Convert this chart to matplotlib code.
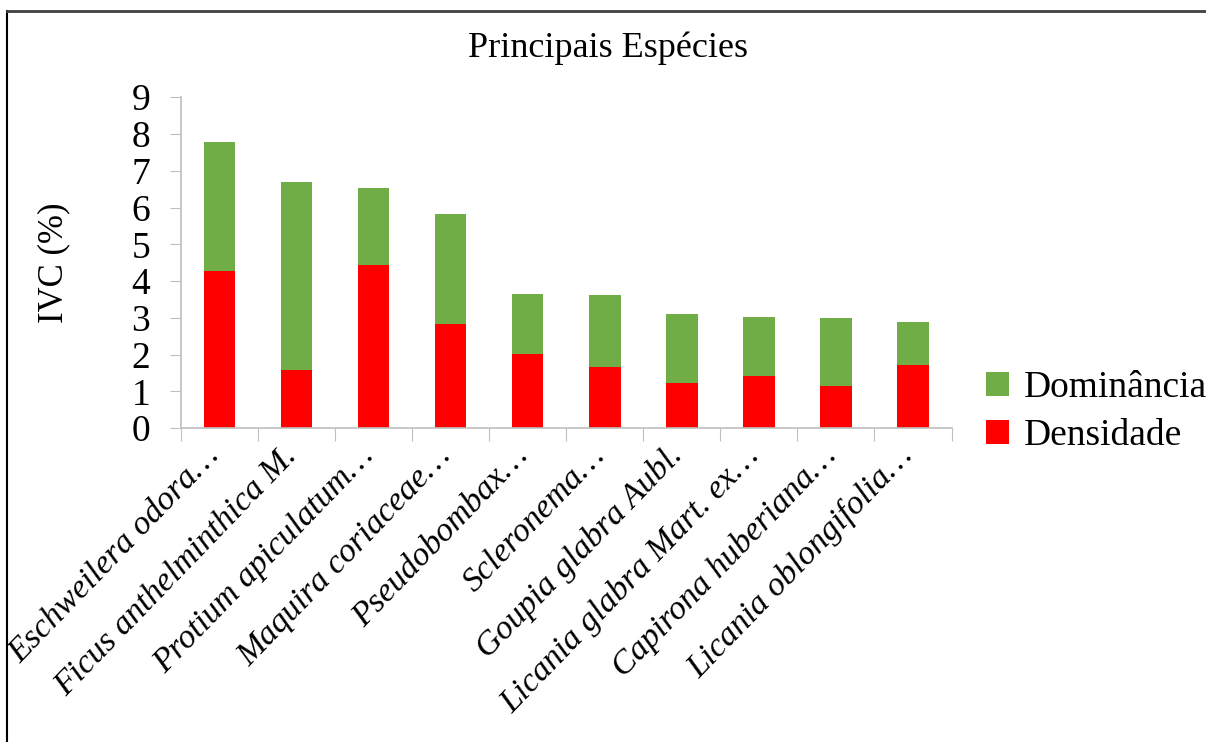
import matplotlib
matplotlib.use("Agg")
import matplotlib.pyplot as plt
from matplotlib.lines import Line2D
import numpy as np

# Dados
especies = ['Eschweilera odora…', 'Ficus anthelminthica M.', 'Protium apiculatum…',
            'Maquira coriaceae…', 'Pseudobombax…', 'Scleronema…',
            'Goupia glabra Aubl.', 'Licania glabra Mart. ex…',
            'Capirona huberiana…', 'Licania oblongifolia…']
densidade = [4.27, 1.59, 4.45, 2.83, 2.01, 1.67, 1.22, 1.41, 1.14, 1.73]
total = [7.78, 6.70, 6.53, 5.83, 3.65, 3.63, 3.10, 3.03, 2.99, 2.88]
dominancia = [t - d for t, d in zip(total, densidade)]

plt.rcParams['font.family'] = ['Liberation Serif', 'DejaVu Serif']

fig = plt.figure(figsize=(12.06, 7.42), dpi=100)
ax = fig.add_axes([0.150, 0.423, 0.639, 0.446])

x = np.arange(len(especies))
larg = 0.41
ax.bar(x, densidade, larg, color='#FF0000', label='Densidade', zorder=2)
ax.bar(x, dominancia, larg, bottom=densidade, color='#70AD47', label='Dominância', zorder=2)

ax.set_xlim(-0.5, len(especies) - 0.5)
ax.set_ylim(0, 9)
ax.set_yticks(range(0, 10))
ax.tick_params(axis='y', labelsize=27, length=8, color='#BFBFBF', pad=14)

# ticks do eixo x nas fronteiras das categorias
ax.set_xticks(np.arange(-0.5, len(especies), 1.0))
ax.set_xticklabels([])
ax.tick_params(axis='x', length=9, color='#BFBFBF')
for i, nome in enumerate(especies):
    ax.text(i + 0.02, -0.78, nome, rotation=46, rotation_mode='anchor',
            ha='right', va='baseline', fontsize=24.5, style='italic',
            transform=ax.transData)

for s in ['top', 'right']:
    ax.spines[s].set_visible(False)
for s in ['left', 'bottom']:
    ax.spines[s].set_color('#BFBFBF')
    ax.spines[s].set_linewidth(1.2)

ax.set_ylabel('IVC (%)', fontsize=25, labelpad=44)
fig.text(0.504, 0.935, 'Principais Espécies', ha='center', va='center', fontsize=26)

h, l = ax.get_legend_handles_labels()
fig.legend(h[::-1], l[::-1], loc='center left', bbox_to_anchor=(0.79, 0.445),
           frameon=False, fontsize=27, handlelength=0.6, handleheight=0.6,
           handletextpad=0.4, labelspacing=0.35)

# moldura (esquerda e topo)
fig.add_artist(Line2D([7 / 1206, 7 / 1206], [0, 1 - 11 / 742], color='black', lw=1.5))
fig.add_artist(Line2D([7 / 1206, 1], [1 - 11 / 742, 1 - 11 / 742], color='#404040', lw=2))

fig.savefig('out.png', dpi=100)
